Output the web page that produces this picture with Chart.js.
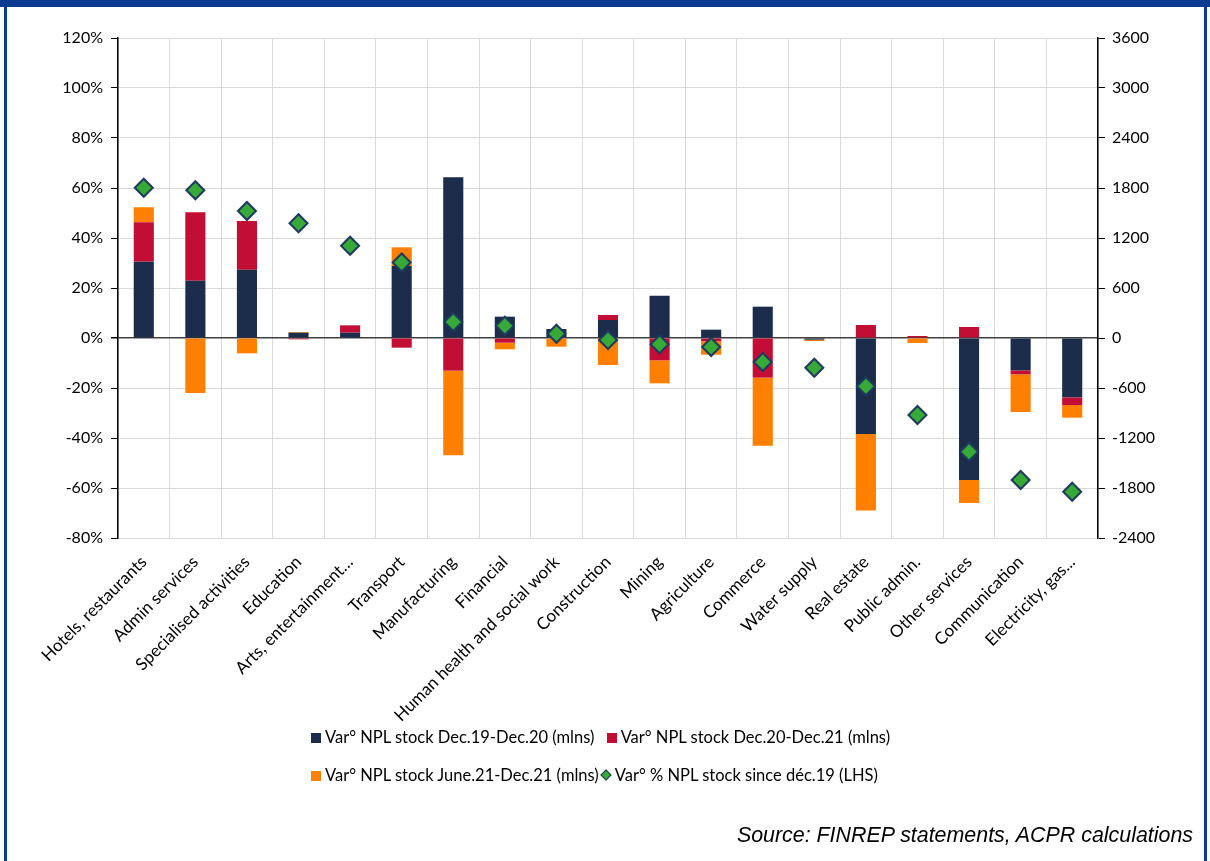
<!DOCTYPE html>
<html>
<head>
<meta charset="utf-8">
<script src="https://cdn.jsdelivr.net/npm/chart.js@4.4.0/dist/chart.umd.min.js"></script>
<style>
  html, body { margin: 0; padding: 0; background: #fff; }
  #page { position: relative; width: 1210px; height: 861px; overflow: hidden; font-family: Lato, sans-serif; }
  #topband { position: absolute; left: 0; top: 0; width: 1210px; height: 7px; background: #0b3c8f; }
  #lborder { position: absolute; left: 4px; top: 0; width: 3px; height: 861px; background: #0b3c8f; }
  #rborder { position: absolute; left: 1204px; top: 0; width: 3px; height: 861px; background: #0b3c8f; }
  #chartbox { position: absolute; left: 0; top: 0; width: 1210px; height: 861px; }
  .legrow { position: absolute; left: 311px; font-size: 16.5px; color: #000; white-space: nowrap; }
  .legrow span.item { margin-right: 8px; }
  .sq { display: inline-block; width: 10px; height: 10px; margin-right: 4px; vertical-align: 0px; }
  .dia { display: inline-block; width: 6px; height: 6px; background: #36a936; border: 1.5px solid #1f3a5f; transform: rotate(45deg); margin: 0 5px 0 3px; vertical-align: 2px; }
  #source { position: absolute; right: 17px; top: 823px; font-family: "Liberation Sans", Arial, sans-serif; font-style: italic; font-size: 21.4px; color: #000; }
</style>
</head>
<body>
<div id="page">
  <div id="chartbox"><canvas id="npl" width="1210" height="861"></canvas></div>
  <div class="legrow" style="top:727px">
    <span class="item"><span class="sq" style="background:#1b2d4a"></span>Var° NPL stock Dec.19-Dec.20 (mlns)</span>
    <span class="item"><span class="sq" style="background:#c20e35"></span>Var° NPL stock Dec.20-Dec.21 (mlns)</span>
  </div>
  <div class="legrow" style="top:765px">
    <span class="item" style="margin-right:0"><span class="sq" style="background:#ff7f00"></span>Var° NPL stock June.21-Dec.21 (mlns)</span><span class="dia"></span>Var° % NPL stock since déc.19 (LHS)
  </div>
  <div id="source">Source: FINREP statements, ACPR calculations</div>
  <div id="topband"></div>
  <div id="lborder"></div>
  <div id="rborder"></div>
</div>
<script>
var sectors = ['Hotels, restaurants', 'Admin services', 'Specialised activities', 'Education',
    'Arts, entertainment…', 'Transport', 'Manufacturing', 'Financial', 'Human health and social work',
    'Construction', 'Mining', 'Agriculture', 'Commerce', 'Water supply', 'Real estate',
    'Public admin.', 'Other services', 'Communication', 'Electricity, gas...'];

// variations in mlns (right axis)
var dec19Dec20 = [916, 688, 820, 64, 64, 864, 1928, 256, 108, 216, 508, 100, 376, -20, -1152, 0, -1704, -388, -712];
var dec20Dec21 = [473, 821, 584, -16, 88, -116, -392, -56, 0, 60, -268, -40, -476, 0, 156, 24, 132, -48, -92];
var jun21Dec21 = [180, -660, -184, 8, 0, 224, -1015, -80, -104, -324, -276, -160, -816, -16, -919, -60, -276, -452, -152];
// variation in % since dec.19 (left axis)
var pctSinceDec19 = [60.1, 59.1, 50.8, 45.9, 36.9, 30.2, 6.4, 4.9, 1.7, -0.8, -2.5, -3.6, -9.6, -11.9, -19.3, -30.8, -45.5, -56.8, -61.5];

var leftTicks = [-80, -60, -40, -20, 0, 20, 40, 60, 80, 100, 120];
var rightTicks = [-2400, -1800, -1200, -600, 0, 600, 1200, 1800, 2400, 3000, 3600];

Chart.defaults.font.family = 'Lato';
Chart.defaults.font.size = 16;
Chart.defaults.color = '#000';

var ctx = document.getElementById('npl');
var myChart = new Chart(ctx, {
    type: 'bar',
    data: {
        labels: sectors,
        datasets: [{
            type: 'line',
            label: 'Var° % NPL stock since déc.19 (LHS)',
            data: pctSinceDec19,
            yAxisID: 'y',
            showLine: false,
            pointStyle: 'rectRot',
            pointRadius: 9,
            pointBackgroundColor: '#36a936',
            pointBorderColor: '#1f3a5f',
            pointBorderWidth: 2,
            order: 0
        }, {
            label: 'Var° NPL stock Dec.19-Dec.20 (mlns)',
            data: dec19Dec20,
            yAxisID: 'y1',
            backgroundColor: '#1b2d4a',
            order: 1
        }, {
            label: 'Var° NPL stock Dec.20-Dec.21 (mlns)',
            data: dec20Dec21,
            yAxisID: 'y1',
            backgroundColor: '#c20e35',
            order: 1
        }, {
            label: 'Var° NPL stock June.21-Dec.21 (mlns)',
            data: jun21Dec21,
            yAxisID: 'y1',
            backgroundColor: '#ff7f00',
            order: 1
        }]
    },
    options: {
        responsive: false,
        animation: false,
        layout: { padding: { top: 38, left: 0, right: 0, bottom: 0 } },
        datasets: { bar: { categoryPercentage: 1, barPercentage: 0.39 } },
        plugins: { legend: { display: false }, tooltip: { enabled: false } },
        scales: {
            x: {
                stacked: true,
                grid: { color: '#d9d9d9', drawTicks: false, offset: true },
                border: { color: '#d9d9d9' },
                ticks: { autoSkip: false, minRotation: 45, maxRotation: 45, padding: 14, font: { size: 17 } },
                afterFit: function (s) { s.height = 323; }
            },
            y: {
                position: 'left',
                min: -80, max: 120,
                afterBuildTicks: function (s) { s.ticks = leftTicks.map(function (v) { return { value: v }; }); },
                ticks: { padding: 8, callback: function (v) { return v + '%'; } },
                grid: {
                    color: function (c) { return c.tick && c.tick.value === 0 ? '#404040' : '#d9d9d9'; },
                    lineWidth: function (c) { return c.tick && c.tick.value === 0 ? 1.5 : 1; },
                    tickColor: '#000', tickLength: 7
                },
                border: { color: '#000', width: 1.5 },
                afterFit: function (s) { s.width = 118; }
            },
            y1: {
                position: 'right',
                stacked: true,
                min: -2400, max: 3600,
                afterBuildTicks: function (s) { s.ticks = rightTicks.map(function (v) { return { value: v }; }); },
                ticks: { padding: 7, callback: function (v) { return String(v); } },
                grid: { drawOnChartArea: false, tickColor: '#000', tickLength: 7 },
                border: { color: '#000', width: 1.5 },
                afterFit: function (s) { s.width = 112; }
            }
        }
    }
});
</script>
</body>
</html>
